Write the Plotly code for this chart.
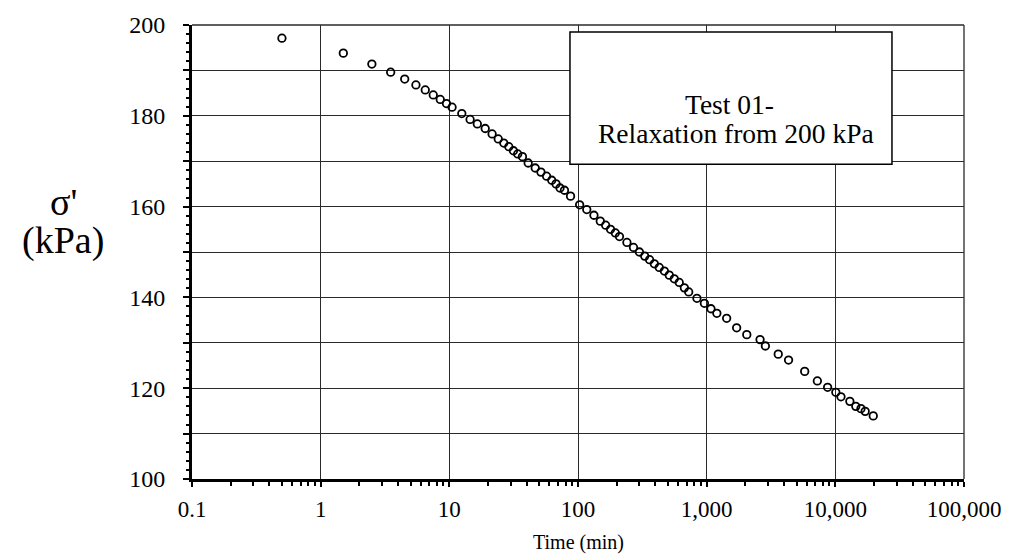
import plotly.graph_objects as go

# Time (min) and effective stress (kPa)
time_min = [0.5, 1.5, 2.5, 3.5, 4.5, 5.5, 6.5, 7.5, 8.5, 9.5,
            10.5, 12.5, 14.5, 16.5, 19, 21.5, 24, 26.5, 29, 31.5,
            34, 37, 41, 46.5, 51.5, 57, 62.5, 67.5, 72.5, 78.5,
            87.5, 103, 117, 133, 149, 164, 179, 195, 210, 240,
            270, 300, 330, 360, 392, 428, 469, 512, 560, 612,
            671, 725, 840, 960, 1080, 1200, 1430, 1710, 2050, 2600,
            2860, 3600, 4330, 5780, 7250, 8710, 10090, 11060, 12970, 14420,
            15820, 17060, 19710]
sigma_kpa = [197.1, 193.8, 191.4, 189.6, 188.1, 186.8, 185.7, 184.6, 183.6, 182.7,
             181.9, 180.5, 179.2, 178.2, 177.2, 176.0, 174.9, 174.0, 173.2, 172.3,
             171.6, 171.0, 169.6, 168.5, 167.6, 166.7, 165.8, 165.0, 164.1, 163.6,
             162.3, 160.4, 159.35, 158.1, 156.8, 155.9, 155.0, 154.2, 153.4, 152.1,
             151.0, 150.0, 149.1, 148.3, 147.4, 146.6, 145.8, 144.9, 144.1, 143.3,
             142.1, 141.2, 139.8, 138.7, 137.5, 136.5, 135.4, 133.3, 131.8, 130.7,
             129.3, 127.5, 126.2, 123.7, 121.6, 120.2, 119.1, 118.1, 117.1, 116.0,
             115.5, 114.9, 113.9]

x_tick_vals = [0.1, 1, 10, 100, 1000, 10000, 100000]
x_tick_text = ["0.1", "1", "10", "100", "1,000", "10,000", "100,000"]
x_minor_vals = [m * d for d in [0.1, 1, 10, 100, 1000, 10000] for m in range(2, 10)]
y_tick_vals = list(range(100, 201, 10))
y_tick_text = [str(v) if v % 20 == 0 else "" for v in y_tick_vals]

FONT = "Liberation Serif"
GRID = "#2a2a2a"

fig = go.Figure()
fig.add_trace(go.Scatter(
    x=time_min, y=sigma_kpa, mode="markers",
    marker=dict(symbol="circle-open", size=7.5, color="black", line=dict(width=1.8)),
    showlegend=False, hoverinfo="x+y"))

fig.update_layout(
    width=1022, height=560,
    margin=dict(l=192, r=58, t=19, b=81),
    paper_bgcolor="white", plot_bgcolor="white",
    font=dict(family=FONT, color="black", size=23),
    xaxis=dict(type="log", range=[-1, 5], tickmode="array",
               tickvals=x_tick_vals, ticktext=x_tick_text,
               showgrid=True, gridcolor=GRID, gridwidth=1.3,
               showline=True, linecolor="black", linewidth=3,
               ticks="outside", ticklen=5, tickwidth=2, tickcolor="black",
               ticklabelstandoff=2,
               minor=dict(tickmode="array", tickvals=x_minor_vals, ticks="outside",
                          ticklen=4, tickwidth=2, tickcolor="black", showgrid=False),
               zeroline=False, tickfont=dict(size=23, family=FONT)),
    yaxis=dict(range=[100, 200], tickmode="array",
               tickvals=y_tick_vals, ticktext=y_tick_text,
               showgrid=True, gridcolor=GRID, gridwidth=1.3,
               showline=True, linecolor="black", linewidth=3,
               ticks="outside", ticklen=6, tickwidth=2, tickcolor="black",
               ticklabelstandoff=13,
               minor=dict(dtick=2, ticks="outside", ticklen=3, tickwidth=1.5,
                          tickcolor="black", showgrid=False),
               zeroline=False, tickfont=dict(size=24, family=FONT)),
    shapes=[
        dict(type="line", xref="paper", yref="paper", x0=0, x1=1, y0=1, y1=1,
             line=dict(color=GRID, width=1.3)),
        dict(type="line", xref="paper", yref="paper", x0=1, x1=1, y0=0, y1=1,
             line=dict(color=GRID, width=1.3)),
        dict(type="rect", xref="paper", yref="paper", x0=0.4896, x1=0.9067,
             y0=0.6935, y1=0.9848, fillcolor="white",
             line=dict(color="black", width=1.5), layer="above"),
    ],
    annotations=[
        dict(text="Test 01-", xref="paper", yref="paper", x=0.696, y=0.825,
             showarrow=False, font=dict(size=27.5, family=FONT), xanchor="center", yanchor="middle"),
        dict(text="Relaxation from 200 kPa", xref="paper", yref="paper", x=0.705, y=0.762,
             showarrow=False, font=dict(size=27.5, family=FONT), xanchor="center", yanchor="middle"),
        dict(text="σ'", xref="paper", yref="paper", x=-0.167, y=0.61,
             showarrow=False, font=dict(size=38, family=FONT), xanchor="center", yanchor="middle"),
        dict(text="(kPa)", xref="paper", yref="paper", x=-0.167, y=0.525,
             showarrow=False, font=dict(size=38, family=FONT), xanchor="center", yanchor="middle"),
        dict(text="Time (min)", xref="paper", yref="paper", x=0.5, y=-0.14,
             showarrow=False, font=dict(size=20, family=FONT), xanchor="center", yanchor="middle"),
    ],
)

fig.write_html("out.html")
